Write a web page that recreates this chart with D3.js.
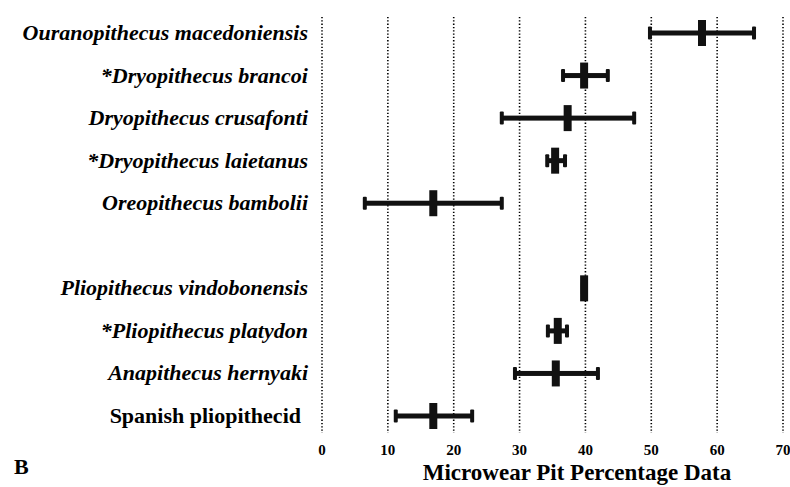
<!DOCTYPE html>
<html><head><meta charset="utf-8">
<script src="https://cdn.jsdelivr.net/npm/d3@7"></script>
<style>body{margin:0;background:#fff}svg{display:block}</style>
</head><body><svg id="c" width="790" height="487"></svg>
<script>
const categories = ["Ouranopithecus macedoniensis","*Dryopithecus brancoi","Dryopithecus crusafonti","*Dryopithecus laietanus","Oreopithecus bambolii","","Pliopithecus vindobonensis","*Pliopithecus platydon","Anapithecus hernyaki","Spanish pliopithecid"];
const italic = [true,true,true,true,true,false,true,true,true,false];
const means = [57.7, 39.8, 37.3, 35.4, 16.9, null, 39.8, 35.8, 35.5, 16.9];
const lows  = [49.8, 36.6, 27.3, 34.2, 6.5, null, 39.6, 34.3, 29.3, 11.2];
const highs = [65.6, 43.4, 47.4, 36.9, 27.3, null, 40.0, 37.2, 41.9, 22.8];
const ticks = [0,10,20,30,40,50,60,70];
const xTitle = "Microwear Pit Percentage Data";
const panel = "B";

const svg = d3.select("#c");
const x = d3.scaleLinear().domain([0,70]).range([322,783]);
const y = d3.scalePoint().domain(d3.range(categories.length)).range([33,416]);

// gridlines
svg.append("g").selectAll("line").data(ticks).join("line")
  .attr("x1",d=>x(d)).attr("x2",d=>x(d)).attr("y1",17).attr("y2",433)
  .attr("stroke","#000").attr("stroke-width",1.6).attr("stroke-dasharray","1.3,2");

// tick labels
svg.append("g").selectAll("text").data(ticks).join("text")
  .attr("x",d=>x(d)).attr("y",455).attr("text-anchor","middle")
  .attr("font-family","Liberation Serif").attr("font-weight","bold").attr("font-size",15)
  .text(d=>d);

// row labels
svg.append("g").selectAll("text").data(categories).join("text")
  .attr("x",(d,i)=>italic[i]?308:301).attr("y",(d,i)=>y(i)+7).attr("text-anchor","end")
  .attr("font-family","Liberation Serif").attr("font-weight","bold")
  .attr("font-style",(d,i)=>italic[i]?"italic":"normal").attr("font-size",22)
  .text(d=>d);

const rows = d3.range(categories.length).filter(i=>means[i]!=null);
const g = svg.append("g").attr("fill","#111");
// horizontal bars
g.selectAll("rect.bar").data(rows).join("rect").attr("class","bar")
  .attr("x",i=>x(lows[i])).attr("width",i=>x(highs[i])-x(lows[i]))
  .attr("y",i=>y(i)-2.5).attr("height",5);
// caps
rows.forEach(i=>{
  [lows[i],highs[i]].forEach(v=>{
    g.append("rect").attr("x",x(v)-2).attr("width",4).attr("y",y(i)-6.5).attr("height",13).attr("rx",1);
  });
});
// mean ticks
g.selectAll("rect.mean").data(rows).join("rect").attr("class","mean")
  .attr("x",i=>x(means[i])-4).attr("width",8)
  .attr("y",i=>y(i)-13).attr("height",26);

// axis title
svg.append("text").attr("x",577).attr("y",480).attr("text-anchor","middle")
  .attr("font-family","Liberation Serif").attr("font-weight","bold").attr("font-size",23)
  .text(xTitle);
svg.append("text").attr("x",14).attr("y",474)
  .attr("font-family","Liberation Serif").attr("font-weight","bold").attr("font-size",22)
  .text(panel);
</script></body></html>
